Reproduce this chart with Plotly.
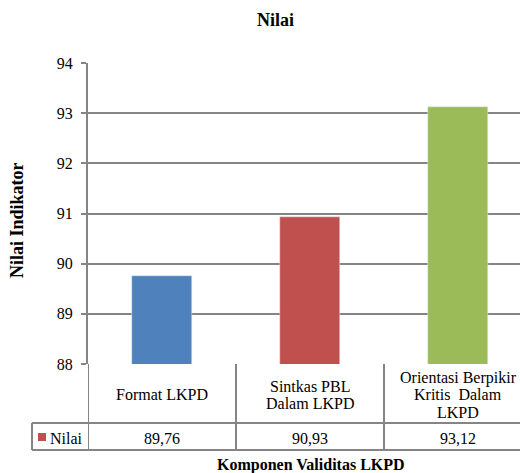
import plotly.graph_objects as go

# Chart data
categories = ["Format LKPD", "Sintkas PBL<br>Dalam LKPD", "Orientasi Berpikir<br>Kritis  Dalam<br>LKPD"]
values = [89.76, 90.93, 93.12]
value_labels = ["89,76", "90,93", "93,12"]
bar_colors = ["#4F81BD", "#C0504D", "#9BBB59"]
series_name = "Nilai"
y_ticks = [88, 89, 90, 91, 92, 93, 94]

FONT = "Liberation Serif"
GRID = "#858585"

W, H = 520, 473
ML, MT, MB = 88, 63, 109
plot_w = W - ML          # right margin 0
plot_h = H - MT - MB
cat_px = 148             # pixel width of one category column

def py(px_y):
    """pixel row -> paper y"""
    return (H - MB - px_y) / plot_h

def px(px_x):
    """pixel column -> paper x"""
    return (px_x - ML) / plot_w

x_idx = list(range(len(categories)))

fig = go.Figure()
fig.add_trace(go.Bar(
    x=x_idx, y=values, marker_color=bar_colors, width=0.405,
    name=series_name, showlegend=False, hoverinfo="skip",
))

x_max = -0.5 + plot_w / cat_px

shapes = []
line = dict(color=GRID, width=2)
row1_bottom = py(423)
row2_bottom = py(450)
# vertical separators of the data table
for b in [-0.5] + [i + 0.5 for i in x_idx[:-1]]:
    shapes.append(dict(type="line", xref="x", yref="paper", x0=b, x1=b,
                       y0=0, y1=row2_bottom, line=line))
# horizontal rules of the data table
for yy in (row1_bottom, row2_bottom):
    shapes.append(dict(type="line", xref="paper", yref="paper", x0=px(32), x1=1.02,
                       y0=yy, y1=yy, line=line))
# left edge of the legend cell
shapes.append(dict(type="line", xref="paper", yref="paper", x0=px(32), x1=px(32),
                   y0=row1_bottom, y1=row2_bottom, line=line))
# legend key
shapes.append(dict(type="rect", xref="paper", yref="paper", x0=px(38), x1=px(46),
                   y0=py(441), y1=py(433), fillcolor=bar_colors[1], line=dict(width=0)))

cell_font = dict(family=FONT, size=16, color="#000")
annotations = []
line_gap = 17.5
for i, (c, v) in enumerate(zip(categories, value_labels)):
    parts = c.split("<br>")
    top = 395 - line_gap * (len(parts) - 1) / 2
    for k, part in enumerate(parts):
        annotations.append(dict(x=i, y=py(top + k * line_gap), xref="x", yref="paper",
                                text=part, showarrow=False, font=cell_font,
                                xanchor="center", yanchor="middle"))
    annotations.append(dict(x=i, y=py(438), xref="x", yref="paper", text=v,
                            showarrow=False, font=cell_font,
                            xanchor="center", yanchor="middle"))
annotations.append(dict(x=px(48), y=py(438), xref="paper", yref="paper", text=series_name,
                        showarrow=False, font=cell_font,
                        xanchor="left", yanchor="middle"))
# title
annotations.append(dict(x=px(275), y=py(20), xref="paper", yref="paper", text="<b>Nilai</b>",
                        showarrow=False, font=dict(family=FONT, size=18, color="#000"),
                        xanchor="center", yanchor="middle"))
# axis titles
annotations.append(dict(x=px(311), y=py(465), xref="paper", yref="paper",
                        text="<b>Komponen Validitas LKPD</b>", showarrow=False,
                        font=dict(family=FONT, size=16, color="#000"),
                        xanchor="center", yanchor="middle"))
annotations.append(dict(x=px(17), y=py(220), xref="paper", yref="paper",
                        text="<b>Nilai Indikator</b>", showarrow=False, textangle=-90,
                        font=dict(family=FONT, size=18, color="#000"),
                        xanchor="center", yanchor="middle"))

fig.update_layout(
    width=W, height=H,
    margin=dict(l=ML, r=0, t=MT, b=MB, pad=0),
    paper_bgcolor="white", plot_bgcolor="white",
    font=dict(family=FONT, size=16, color="#000"),
    shapes=shapes, annotations=annotations,
    bargap=0,
    xaxis=dict(range=[-0.5, x_max], showticklabels=False, showgrid=False,
               zeroline=False, showline=False, ticks="", fixedrange=True),
    yaxis=dict(range=[88, 94], tickvals=y_ticks, ticktext=[str(t) for t in y_ticks],
               showgrid=True, gridcolor=GRID, gridwidth=2,
               showline=True, linecolor=GRID, linewidth=2,
               ticks="outside", ticklen=5, tickcolor=GRID, tickwidth=2,
               ticklabelstandoff=5, zeroline=False,
               tickfont=dict(family=FONT, size=16, color="#000"), fixedrange=True),
)

fig.write_html("out.html")
